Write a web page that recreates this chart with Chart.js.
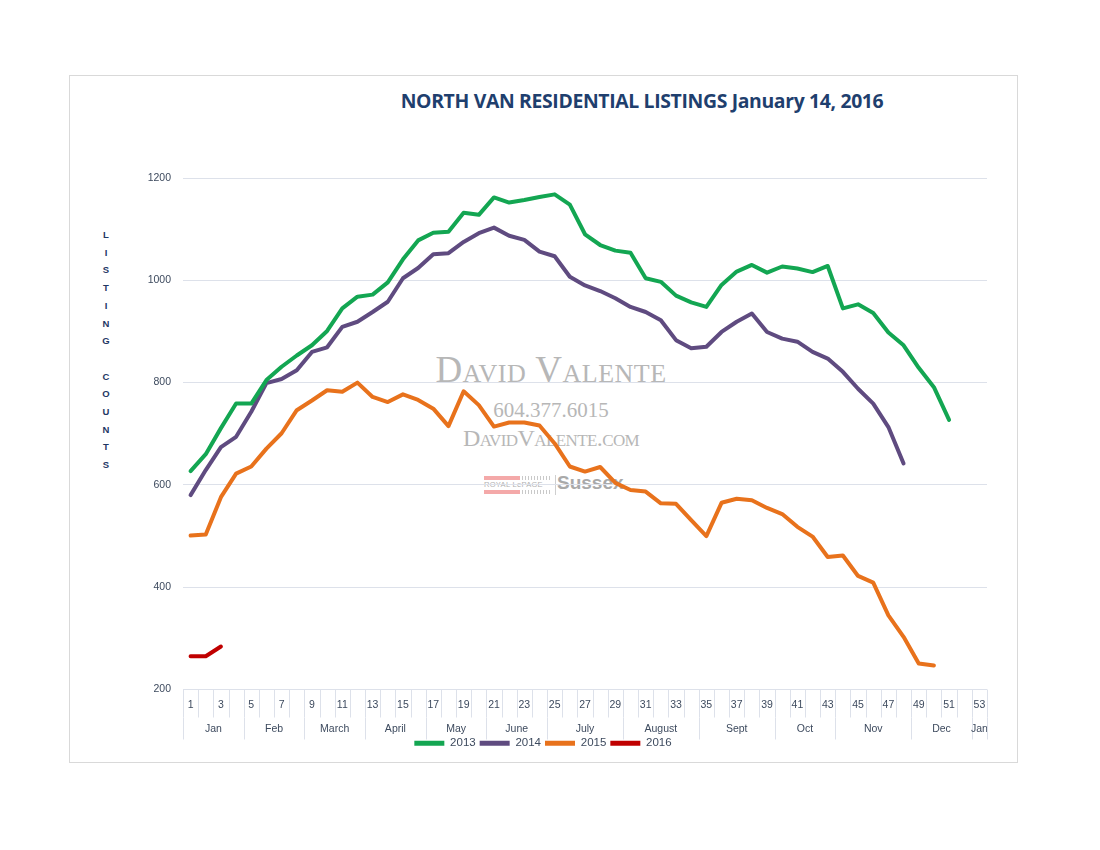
<!DOCTYPE html>
<html>
<head>
<meta charset="utf-8">
<script src="https://cdn.jsdelivr.net/npm/chart.js@4.4.1/dist/chart.umd.min.js"></script>
<style>
  html, body { margin: 0; padding: 0; background: #ffffff; }
  #page { position: relative; width: 1100px; height: 850px; background: #fff; overflow: hidden; }
  #frame { position: absolute; left: 69px; top: 75px; width: 949px; height: 688px; border: 1px solid #d9d9d9; box-sizing: border-box; }
  #title { position: absolute; left: 362px; width: 560px; top: 87px; text-align: center; font-family: "Open Sans", "Liberation Sans", sans-serif; font-weight: 700; font-size: 19.4px; color: #1f3f6e; white-space: nowrap; letter-spacing: -0.35px; }
  #ytitle { position: absolute; left: 96px; top: 226px; width: 20px; text-align: center; font-family: "Liberation Sans", Arial, sans-serif; font-weight: 700; font-size: 9.5px; line-height: 17.7px; color: #1f3864; }
  .wm { position: absolute; text-align: center; white-space: nowrap; color: #b7b7b7; }
  #wm1 { left: 401px; width: 300px; top: 348px; font-family: "Liberation Serif", "DejaVu Serif", serif; font-variant: small-caps; font-size: 37px; letter-spacing: 0.5px; }
  #wm2 { left: 451px; width: 200px; top: 398px; font-family: "Liberation Serif", "DejaVu Serif", serif; font-size: 21px; }
  #wm3 { left: 401px; width: 300px; top: 425px; font-family: "Liberation Serif", "DejaVu Serif", serif; font-variant: small-caps; font-size: 24px; letter-spacing: -0.6px; }
  #logo { position: absolute; left: 484px; top: 474px; width: 140px; height: 22px; }
  #logo .bar { position: absolute; left: 0; width: 36px; height: 4px; background: #f4a9a9; }
  #logo .ticks { position: absolute; left: 38px; width: 30px; height: 4px; background: repeating-linear-gradient(90deg, #c9c9c9 0 1px, transparent 1px 3px); }
  #logo .rl { position: absolute; left: 0; top: 6px; font-family: "Liberation Sans", Arial, sans-serif; font-size: 7.5px; color: #b0b0b0; letter-spacing: 0.3px; }
  #logo .sep { position: absolute; left: 71px; top: 1px; width: 1px; height: 20px; background: #cfcfcf; }
  #logo .sx { position: absolute; left: 73px; top: -2px; font-family: "Liberation Sans", Arial, sans-serif; font-weight: 700; font-size: 19px; color: #a9a9a9; }
  #wrap { position: absolute; left: 70px; top: 76px; width: 946px; height: 685px; }
</style>
</head>
<body>
<div id="page">
  <div id="frame"></div>
  <div id="title">NORTH VAN RESIDENTIAL LISTINGS January 14, 2016</div>
  <div id="ytitle">L<br>I<br>S<br>T<br>I<br>N<br>G<br>&nbsp;<br>C<br>O<br>U<br>N<br>T<br>S</div>
  <div class="wm" id="wm1">David Valente</div>
  <div class="wm" id="wm2">604.377.6015</div>
  <div class="wm" id="wm3">DavidValente.com</div>
  <div id="logo">
    <div class="bar" style="top:2px"></div>
    <div class="ticks" style="top:2px"></div>
    <div class="rl">ROYAL LePAGE</div>
    <div class="bar" style="top:16px"></div>
    <div class="ticks" style="top:16px"></div>
    <div class="sep"></div>
    <div class="sx">Sussex</div>
  </div>
  <div id="wrap"><canvas id="chart"></canvas></div>
</div>
<script>
const weeks = ['1','2','3','4','5','6','7','8','9','10','11','12','13','14','15','16','17','18','19','20','21','22','23','24','25','26','27','28','29','30','31','32','33','34','35','36','37','38','39','40','41','42','43','44','45','46','47','48','49','50','51','52','53'];

const months = ['Jan','Feb','March','April','May','June','July','August','Sept','Oct','Nov','Dec','Jan'];
const monthWeeks = [4,4,4,4,4,4,5,5,5,4,5,4,1];

const series2013 = [627,660,711,759,759,805,831,853,873,901,945,968,972,996,1041,1078,1093,1095,1132,1128,1162,1152,1157,1163,1168,1148,1090,1069,1058,1054,1004,997,970,957,948,991,1017,1030,1015,1027,1023,1016,1028,945,953,936,898,873,829,791,727];
const series2014 = [580,629,674,694,743,799,807,824,860,869,909,919,938,958,1004,1024,1051,1053,1075,1092,1103,1087,1079,1056,1047,1007,990,979,965,948,938,922,883,867,870,899,919,935,899,886,880,860,847,821,788,759,713,642];
const series2015 = [501,503,576,622,636,671,701,746,765,785,782,800,772,762,777,766,749,715,783,756,714,722,722,716,681,636,626,635,604,590,587,564,563,531,500,565,573,570,555,543,518,499,459,462,422,409,345,303,251,247];
const series2016 = [265,265,284];

const yTicks = [200,400,600,800,1000,1200];

const seriesNames = ['2013','2014','2015','2016'];
const seriesColors = ['#13a652','#5f4b80','#e8721c','#c00000'];
const seriesData = [series2013, series2014, series2015, series2016];

const textColor = '#3d4a5e';
const lineGrid = '#dde1ea';

const axisDecor = {
  id: 'axisDecor',
  afterDraw(chart) {
    const x = chart.scales.x;
    const ctx = chart.ctx;
    const w = x.getPixelForValue(1) - x.getPixelForValue(0);
    const top = x.top;
    const x0 = x.getPixelForValue(0) - w / 2;
    ctx.save();
    ctx.strokeStyle = lineGrid;
    ctx.lineWidth = 1;
    for (let k = 0; k <= weeks.length; k++) {
      const px = Math.round(x0 + k * w) + 0.5;
      ctx.beginPath();
      ctx.moveTo(px, top);
      ctx.lineTo(px, top + 28);
      ctx.stroke();
    }
    const drawSep = (k) => {
      const px = Math.round(x0 + k * w) + 0.5;
      ctx.beginPath();
      ctx.moveTo(px, top + 28);
      ctx.lineTo(px, top + 50);
      ctx.stroke();
    };
    ctx.fillStyle = textColor;
    ctx.font = '10.5px "Liberation Sans", Arial, sans-serif';
    ctx.textAlign = 'center';
    ctx.textBaseline = 'middle';
    drawSep(0);
    let idx = 0;
    months.forEach((m, i) => {
      const end = idx + monthWeeks[i];
      const cx = x0 + (idx + end) / 2 * w;
      ctx.fillText(m, cx, top + 40);
      drawSep(end);
      idx = end;
    });
    ctx.restore();
  }
};

const ctx = document.getElementById('chart').getContext('2d');
new Chart(ctx, {
  type: 'line',
  data: {
    labels: weeks,
    datasets: seriesNames.map((n, i) => ({
      label: n,
      data: seriesData[i],
      borderColor: seriesColors[i],
      backgroundColor: seriesColors[i],
      borderWidth: 4,
      pointRadius: 0,
      pointHoverRadius: 0,
      tension: 0,
      borderJoinStyle: 'round',
      borderCapStyle: 'round',
      fill: false
    }))
  },
  options: {
    responsive: true,
    maintainAspectRatio: false,
    animation: false,
    events: [],
    layout: { padding: { left: 29, right: 29, top: 102, bottom: 2 } },
    plugins: {
      title: { display: false },
      tooltip: { enabled: false },
      legend: {
        display: true,
        position: 'bottom',
        labels: {
          boxWidth: 30,
          boxHeight: 5,
          padding: 4,
          color: textColor,
          font: { family: '"Liberation Sans", Arial, sans-serif', size: 11.5 },
          generateLabels(chart) {
            const items = Chart.defaults.plugins.legend.labels.generateLabels(chart);
            items.forEach(it => { it.lineWidth = 0; });
            return items;
          }
        }
      }
    },
    scales: {
      x: {
        type: 'category',
        offset: true,
        grid: { display: false, drawTicks: false },
        border: { display: false },
        ticks: {
          autoSkip: false,
          maxRotation: 0,
          minRotation: 0,
          padding: 9,
          color: textColor,
          font: { family: '"Liberation Sans", Arial, sans-serif', size: 10.5 },
          callback: (v, i) => (i % 2 === 0 ? weeks[i] : '')
        },
        afterFit: (scale) => { scale.height = 44; }
      },
      y: {
        min: 200,
        max: 1200,
        afterBuildTicks: (scale) => { scale.ticks = yTicks.map(v => ({ value: v })); },
        grid: { color: lineGrid, drawTicks: false, lineWidth: 1 },
        border: { display: false },
        ticks: {
          padding: 12,
          color: textColor,
          font: { family: '"Liberation Sans", Arial, sans-serif', size: 10.5 },
          callback: (v) => String(v)
        },
        afterFit: (scale) => { scale.width = 84; }
      }
    }
  },
  plugins: [axisDecor]
});
</script>
</body>
</html>
